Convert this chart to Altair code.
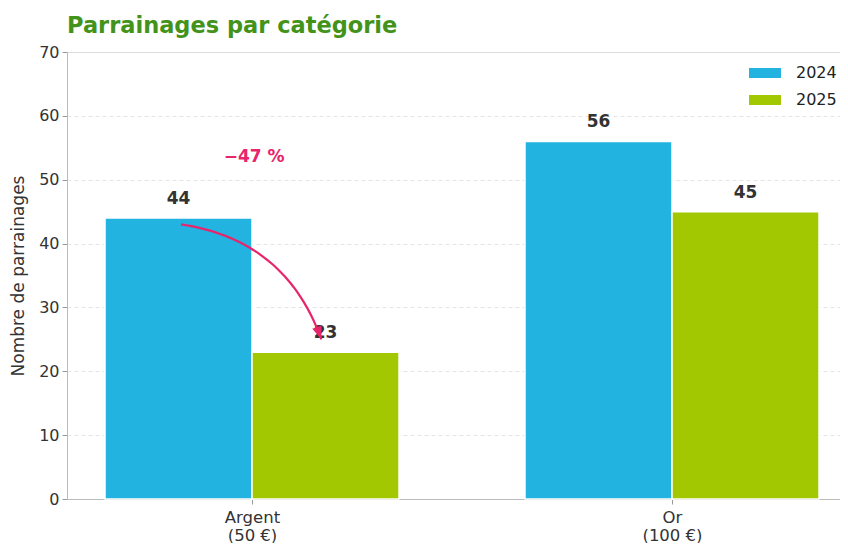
import json
import math
import altair as alt
import pandas as pd

# ---- data ----
categories = [["Argent", "(50 €)"], ["Or", "(100 €)"]]
years = ["2024", "2025"]
values_2024 = [44, 56]
values_2025 = [23, 45]
change_label = "−47 %"
title_text = "Parrainages par catégorie"
y_title = "Nombre de parrainages"

# ---- style ----
BLUE = "#22b3e1"
GREEN = "#a1c800"
PINK = "#e8246a"
TITLE_GREEN = "#43931a"
FONT = "DejaVu Sans"

W, H = 773, 447
X_DOM = [-0.4405, 1.4]
Y_DOM = [0, 70]
BAR_W = 0.35

rows = []
for i, cat in enumerate(categories):
    for j, (yr, vals) in enumerate(zip(years, [values_2024, values_2025])):
        x0 = i - BAR_W + j * BAR_W
        rows.append(dict(cat=" ".join(cat), year=yr, value=vals[i], x0=x0,
                         x1=x0 + BAR_W, xc=x0 + BAR_W / 2, label=str(vals[i])))
df = pd.DataFrame(rows)

# ---- annotation arrow (quadratic curve between the two Argent bars) ----
def px(x):
    return (x - X_DOM[0]) / (X_DOM[1] - X_DOM[0]) * W

def py(y):
    return H - (y - Y_DOM[0]) / (Y_DOM[1] - Y_DOM[0]) * H

def dx_(p):
    return p / W * (X_DOM[1] - X_DOM[0]) + X_DOM[0]

def dy_(p):
    return (H - p) / H * (Y_DOM[1] - Y_DOM[0]) + Y_DOM[0]

start = (df.iloc[0]["xc"] + 0.006, values_2024[0] - 1)
end = (df.iloc[1]["xc"] - 0.01, values_2025[0] + 2)
P0 = (px(start[0]), py(start[1]))
P2 = (px(end[0]), py(end[1]))
rad = 0.3
mx, my = (P0[0] + P2[0]) / 2, (P0[1] + P2[1]) / 2
ddx, ddy = P2[0] - P0[0], P2[1] - P0[1]
C = (mx + rad * ddy, my - rad * ddx)
curve = []
N = 40
for k in range(N + 1):
    t = k / N
    bx = (1 - t) ** 2 * P0[0] + 2 * (1 - t) * t * C[0] + t ** 2 * P2[0]
    by = (1 - t) ** 2 * P0[1] + 2 * (1 - t) * t * C[1] + t ** 2 * P2[1]
    curve.append(dict(x=dx_(bx), y=dy_(by), o=k))
curve_df = pd.DataFrame(curve)
tx, ty = P2[0] - C[0], P2[1] - C[1]
ang = math.degrees(math.atan2(tx, -ty)) % 360
head_df = pd.DataFrame([dict(x=end[0], y=end[1], a=ang)])
note_df = pd.DataFrame([dict(x=0.005, y=53.6, t=change_label)])

label_expr = json.dumps(categories, ensure_ascii=False) + "[datum.value]"

xscale = alt.Scale(domain=X_DOM, nice=False, zero=False)
yscale = alt.Scale(domain=Y_DOM, nice=False)

bars = alt.Chart(df).mark_bar(stroke="white", strokeWidth=1.5).encode(
    x=alt.X("x0:Q", scale=xscale, title=None,
            axis=alt.Axis(values=[0, 1], labelExpr=label_expr, grid=False,
                          labelLineHeight=18, labelPadding=5, tickSize=5,
                          labelFontSize=16.5, labelColor="#333", domainColor="#bbb",
                          tickColor="#999", labelFont=FONT)),
    x2="x1:Q",
    y=alt.Y("value:Q", scale=yscale, title=y_title,
            axis=alt.Axis(values=list(range(0, 71, 10)), grid=True, gridDash=[4, 3],
                          gridColor="#dddddd", gridWidth=0.8, tickSize=5,
                          labelPadding=3, labelFontSize=16, labelColor="#333",
                          domainColor="#bbb", tickColor="#999", titleFontSize=17,
                          titleFontWeight="normal", titleColor="#333", titlePadding=11,
                          labelFont=FONT, titleFont=FONT)),
    y2=alt.datum(0),
    color=alt.Color("year:N", scale=alt.Scale(domain=years, range=[BLUE, GREEN]),
                    legend=alt.Legend(title=None, orient="none", legendX=682, legendY=5,
                                      symbolType="M-1,-0.3125H1V0.3125H-1Z",
                                      symbolSize=1024, symbolStrokeWidth=0,
                                      labelFontSize=16, labelColor="#222",
                                      labelOffset=15, rowPadding=3, labelFont=FONT)),
)

labels = alt.Chart(df).mark_text(dy=-10, fontWeight="bold", fontSize=17, color="#333",
                                 font=FONT, baseline="bottom").encode(
    x="xc:Q", y="value:Q", text="label:N")

arc = alt.Chart(curve_df).mark_line(color=PINK, strokeWidth=2.2).encode(
    x="x:Q", y="y:Q", order="o:Q")

head = alt.Chart(head_df).mark_point(shape="M0,0L0.38,1L-0.38,1Z", filled=True,
                                     color=PINK, size=676, opacity=1).encode(
    x="x:Q", y="y:Q", angle=alt.Angle("a:Q", scale=None))

note = alt.Chart(note_df).mark_text(color=PINK, fontWeight="bold", fontSize=17,
                                    font=FONT).encode(x="x:Q", y="y:Q", text="t:N")

chart = alt.layer(bars, labels, arc, head, note).properties(
    width=W, height=H,
    title=alt.TitleParams(title_text, anchor="start", frame="group", fontSize=22.5,
                          color=TITLE_GREEN, font=FONT, fontWeight="bold", offset=7),
    autosize=alt.AutoSizeParams(type="none"),
    padding={"left": 59, "top": 44, "right": 0, "bottom": 44},
).configure_view(stroke=None).configure(font=FONT)

chart.save("out.html", embed_options={"renderer": "svg", "actions": False})
